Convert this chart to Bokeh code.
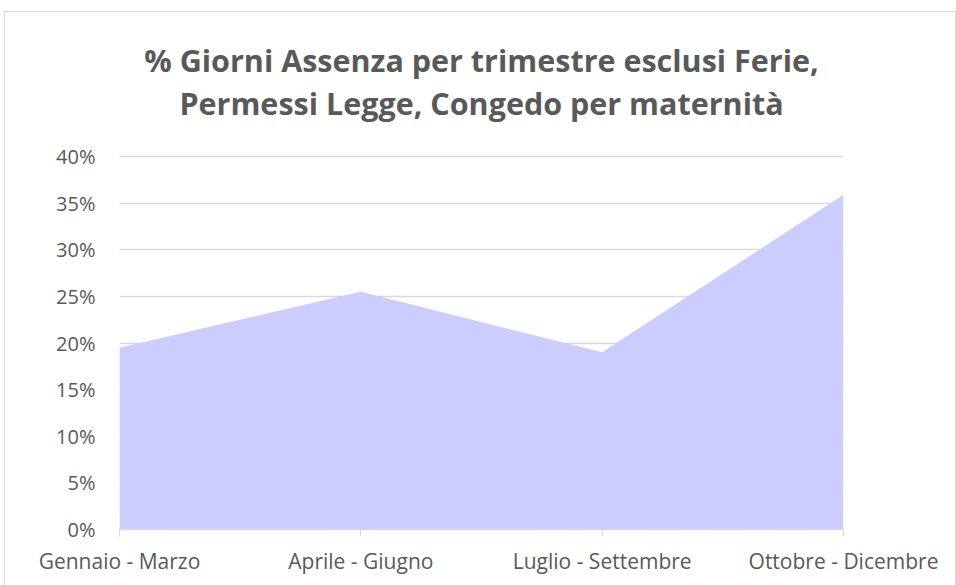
from bokeh.plotting import figure
from bokeh.models import Label, FixedTicker, NumeralTickFormatter, Range1d, ColumnDataSource
from bokeh.embed import file_html
from bokeh.resources import INLINE

categories = ["Gennaio - Marzo", "Aprile - Giugno", "Luglio - Settembre", "Ottobre - Dicembre"]
values = [0.195, 0.255, 0.190, 0.359]
y_ticks = [0.0, 0.05, 0.10, 0.15, 0.20, 0.25, 0.30, 0.35, 0.40]
title_lines = ["% Giorni Assenza per trimestre esclusi Ferie,", "Permessi Legge, Congedo per maternità"]

FONT = "Open Sans"
TXT = "#595959"

# layout: grid area is 373px tall for 0..40%; frame extends upward to hold the title
GRID_H = 373
FRAME_H = 517
y_max = max(y_ticks)
y_top = y_max * FRAME_H / GRID_H

xs = list(range(len(categories)))
src = ColumnDataSource(dict(x=xs, y=values, base=[0.0] * len(values)))

p = figure(frame_width=724, frame_height=FRAME_H, output_backend="svg", toolbar_location=None,
           x_range=Range1d(0, len(categories) - 1), y_range=Range1d(0, y_top),
           min_border_left=114, min_border_right=112, min_border_bottom=62, min_border_top=0)

p.varea(x="x", y1="base", y2="y", source=src, fill_color="#CCCCFF")

mid = (len(categories) - 1) / 2
for line, off in zip(title_lines, [97, 54]):
    p.add_layout(Label(x=mid, y=y_max, y_offset=off, text=line, text_align="center",
                       text_baseline="alphabetic", text_font=FONT, text_font_size="30.5px",
                       text_font_style="bold", text_color=TXT))

p.outline_line_color = None
p.background_fill_color = "white"
p.border_fill_color = "white"

p.xgrid.grid_line_color = None
p.ygrid.grid_line_color = "#d9d9d9"
p.ygrid.grid_line_width = 1.5
p.ygrid.ticker = FixedTicker(ticks=y_ticks)

p.yaxis.ticker = FixedTicker(ticks=y_ticks)
p.yaxis.formatter = NumeralTickFormatter(format="0%")
p.yaxis.axis_line_color = None
p.yaxis.major_tick_line_color = None
p.yaxis.minor_tick_line_color = None
p.yaxis.major_label_standoff = 18
p.yaxis.major_label_text_font = FONT
p.yaxis.major_label_text_font_size = "20px"
p.yaxis.major_label_text_color = TXT

p.xaxis.ticker = FixedTicker(ticks=xs)
p.xaxis.major_label_overrides = {i: c for i, c in enumerate(categories)}
p.xaxis.axis_line_color = "#d9d9d9"
p.xaxis.axis_line_width = 1.5
p.xaxis.major_tick_line_color = "#d9d9d9"
p.xaxis.major_tick_in = 0
p.xaxis.major_tick_out = 7
p.xaxis.minor_tick_line_color = None
p.xaxis.major_label_standoff = 10
p.xaxis.major_label_text_font = FONT
p.xaxis.major_label_text_font_size = "21px"
p.xaxis.major_label_text_color = TXT

p.styles = {"border": "1px solid #d9d9d9", "margin": "11px 0 0 4px"}

open("out.html", "w").write(file_html(p, INLINE))
